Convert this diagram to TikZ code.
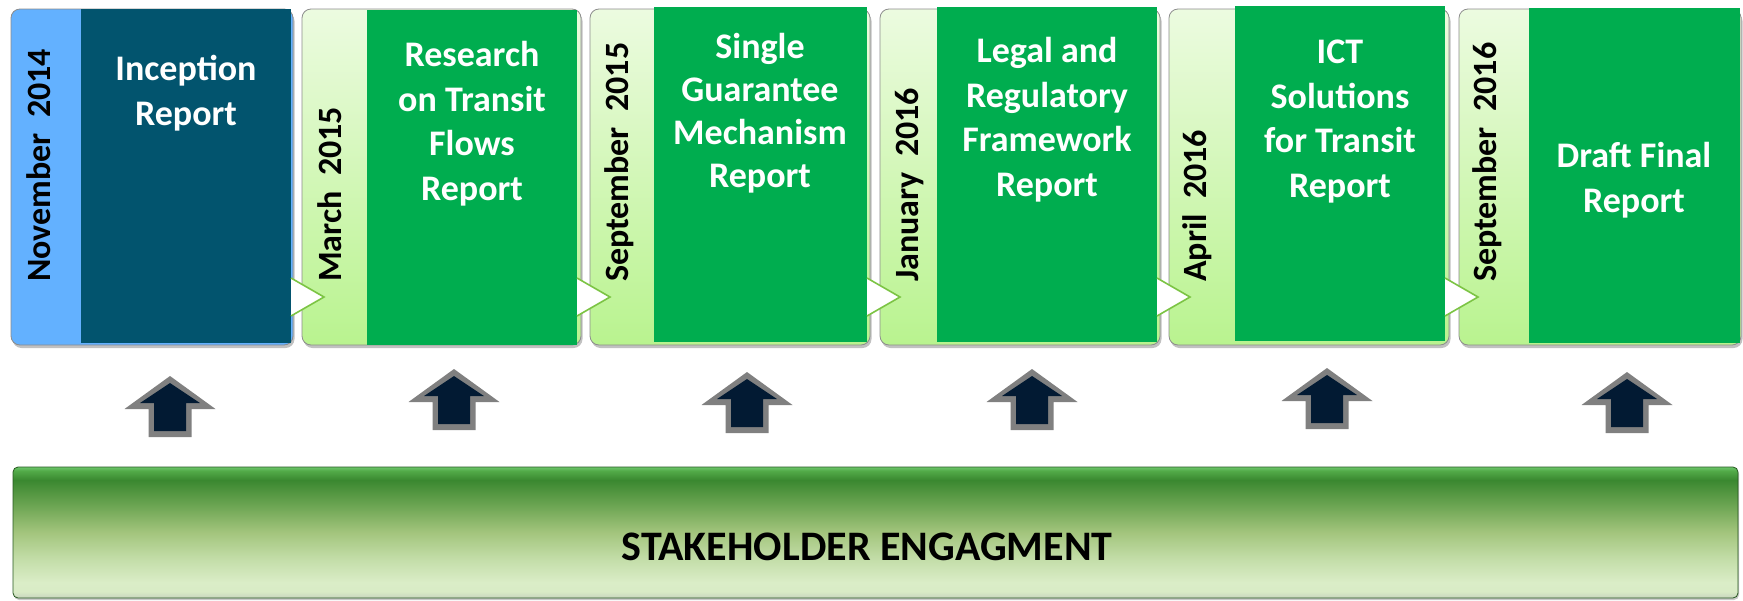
\documentclass[tikz,border=0pt]{standalone}
\usepackage{fontspec}
\setmainfont{Carlito}
\usetikzlibrary{shadows}
\definecolor{tealmain}{HTML}{02546E}
\definecolor{skyb}{HTML}{63B1FF}
\definecolor{ogreen}{HTML}{00AD4F}
\definecolor{stripTop}{HTML}{ECFBE0}
\definecolor{stripBot}{HTML}{B9F38F}
\definecolor{notchg}{HTML}{7CC444}
\definecolor{navyfill}{HTML}{021A33}
\definecolor{agray}{HTML}{808080}
\definecolor{barA}{HTML}{C8D4BE}
\definecolor{barB}{HTML}{D9EBC6}
\definecolor{barC}{HTML}{DAEDC7}
\definecolor{barD}{HTML}{C3DDA8}
\definecolor{barE}{HTML}{A3C57D}
\definecolor{barF}{HTML}{6EA654}
\definecolor{barG}{HTML}{3A8830}
\definecolor{barH}{HTML}{52AA48}
\definecolor{barI}{HTML}{6CC56A}
\pgfdeclareverticalshading{barshade}{100bp}{color(0bp)=(barA); color(25bp)=(barA); color(27.5bp)=(barB); color(31bp)=(barC); color(40bp)=(barD); color(50bp)=(barE); color(60bp)=(barF); color(70bp)=(barG); color(73.5bp)=(barH); color(75bp)=(barI); color(100bp)=(barI)}
\tikzset{
  outerbox/.style={rounded corners=9pt, draw=black!45, line width=0.8pt,
    drop shadow={shadow xshift=1.5pt, shadow yshift=-3pt, opacity=0.35, fill=black!70}},
  greenstrip/.style={top color=stripTop, bottom color=stripBot},
  bluestrip/.style={fill=skyb},
  mainrect/.style={fill=ogreen},
  tealrect/.style={fill=tealmain},
  notchfill/.style={fill=white},
  notchline/.style={draw=notchg, line width=1.6pt, line join=miter},
  title/.style={anchor=base, align=center, inner sep=0pt, text=white,
    font=\fontsize{36}{44.5}\selectfont\bfseries},
  datelbl/.style={rotate=90, anchor=base west, inner sep=0pt, text=black,
    font=\fontsize{34}{40}\selectfont\bfseries},
  arrowouter/.style={fill=agray},
  arrowinner/.style={fill=navyfill},
  barbox/.style={shading=barshade, rounded corners=5pt, draw=black!35!barG, line width=0.8pt,
    drop shadow={shadow xshift=1pt, shadow yshift=-2pt, opacity=0.3, fill=black!70}},
  barlabel/.style={anchor=base, inner sep=0pt, text=black,
    font=\fontsize{42}{48}\selectfont\bfseries}
}
\newcommand\uparr[2]{%
  \fill[arrowouter] (#1,#2) -- ++(45.5,33) -- ++(-24,0) -- ++(0,28) -- ++(-43,0) -- ++(0,-28) -- ++(-24,0) -- cycle;
  \fill[arrowinner] (#1,#2+7) -- ++(30,20) -- ++(-14,0) -- ++(0,28) -- ++(-32,0) -- ++(0,-28) -- ++(-14,0) -- cycle;
}
\newcommand\notchat[1]{%
  \fill[notchfill] (#1,278) -- (#1+33,297) -- (#1,316) -- cycle;
  \draw[notchline] (#1,278) -- (#1+33,297) -- (#1,316);
}
\begin{document}
\begin{tikzpicture}[x=1pt, y=-1pt]
\useasboundingbox (0,0) rectangle (1743,600);
% box 1
\path[outerbox, bluestrip] (11,9) rectangle (293,345);
\fill[tealrect] (81,9) rectangle (291,343);
% box 2
\path[outerbox, greenstrip] (302,9) rectangle (581,345);
\fill[mainrect] (367,10) rectangle (577,345);
% box 3
\path[outerbox, greenstrip] (590,9) rectangle (870,345);
\fill[mainrect] (654,7) rectangle (867,342);
% box 4
\path[outerbox, greenstrip] (880,9) rectangle (1160,345);
\fill[mainrect] (937,7) rectangle (1157,342);
% box 5
\path[outerbox, greenstrip] (1169,9) rectangle (1449,345);
\fill[mainrect] (1235,6) rectangle (1445,341);
% box 6
\path[outerbox, greenstrip] (1459,9) rectangle (1741,345);
\fill[mainrect] (1529,8) rectangle (1740,343);
% notches
\notchat{291}
\notchat{577}
\notchat{867}
\notchat{1157}
\notchat{1445}
% titles (anchor = baseline of last line)
\node[title] (t1) at (186,125) {Inception\\Report};
\node[title] (t2) at (472,200) {Research\\on Transit\\Flows\\Report};
\node[title, font=\fontsize{36}{43}\selectfont\bfseries] (t3) at (760,187) {Single\\Guarantee\\Mechanism\\Report};
\node[title] (t4) at (1047,196) {Legal and\\Regulatory\\Framework\\Report};
\node[title] (t5) at (1340,197) {ICT\\Solutions\\for Transit\\Report};
\node[title] (t6) at (1634,212) {Draft Final\\Report};
% dates
\node[datelbl] (d1) at (50,282) {November\ \ 2014};
\node[datelbl] (d2) at (341,282) {March\ \ 2015};
\node[datelbl] (d3) at (628,282) {September\ \ 2015};
\node[datelbl] (d4) at (918,282) {January\ \ 2016};
\node[datelbl] (d5) at (1206,282) {April\ \ 2016};
\node[datelbl] (d6) at (1496,282) {September\ \ 2016};
% arrows
\uparr{170}{376}
\uparr{454}{369}
\uparr{747}{372}
\uparr{1032}{369}
\uparr{1327}{368}
\uparr{1627}{372}
% bottom bar
\path[barbox] (13,467) rectangle (1738,598);
\node[barlabel] (se) at (867,560) {STAKEHOLDER ENGAGMENT};
\end{tikzpicture}
\end{document}
